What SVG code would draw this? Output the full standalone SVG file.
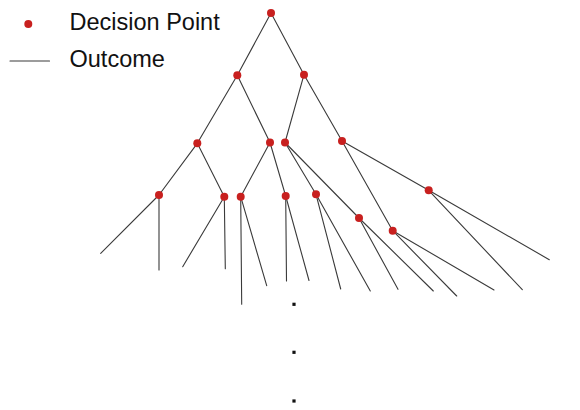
<svg xmlns="http://www.w3.org/2000/svg" width="580" height="410" viewBox="0 0 580 410">
<style>
.e{stroke:#3a3a3a;stroke-width:1.1;fill:none;stroke-linecap:round}
.n{fill:#c8201f}
.t{font-family:"Liberation Sans",Arial,sans-serif;font-size:23.5px;fill:#111}
.d{fill:#111}
</style>
<rect width="580" height="410" fill="#fff"/>
<g id="legend">
<circle class="n" cx="28.3" cy="24" r="4"/>
<text class="t" x="69.5" y="29.5">Decision Point</text>
<line class="e" x1="10" y1="61" x2="49.5" y2="61"/>
<text class="t" x="69.5" y="67">Outcome</text>
</g>
<g id="connectors">
<line class="e" x1="271" y1="13" x2="237.3" y2="75.3"/>
<line class="e" x1="271" y1="13" x2="304" y2="74.7"/>
<line class="e" x1="237.3" y1="75.3" x2="197.3" y2="143.3"/>
<line class="e" x1="237.3" y1="75.3" x2="270" y2="142.5"/>
<line class="e" x1="304" y1="74.7" x2="285" y2="142.5"/>
<line class="e" x1="304" y1="74.7" x2="342" y2="141"/>
<line class="e" x1="197.3" y1="143.3" x2="159" y2="195"/>
<line class="e" x1="197.3" y1="143.3" x2="224.3" y2="196.7"/>
<line class="e" x1="270" y1="142.5" x2="240.7" y2="196.7"/>
<line class="e" x1="270" y1="142.5" x2="285.7" y2="196"/>
<line class="e" x1="285" y1="142.5" x2="316" y2="194.3"/>
<line class="e" x1="285" y1="142.5" x2="359" y2="218"/>
<line class="e" x1="342" y1="141" x2="392.7" y2="230.7"/>
<line class="e" x1="342" y1="141" x2="428.7" y2="190.3"/>
<line class="e" x1="159" y1="195" x2="100.7" y2="253.3"/>
<line class="e" x1="159" y1="195" x2="159" y2="270"/>
<line class="e" x1="224.3" y1="196.7" x2="182.7" y2="266.7"/>
<line class="e" x1="224.3" y1="196.7" x2="225.3" y2="268.7"/>
<line class="e" x1="240.7" y1="196.7" x2="241.7" y2="304.3"/>
<line class="e" x1="240.7" y1="196.7" x2="266.7" y2="285.7"/>
<line class="e" x1="285.7" y1="196" x2="286.5" y2="281"/>
<line class="e" x1="285.7" y1="196" x2="309" y2="280.5"/>
<line class="e" x1="316" y1="194.3" x2="340.7" y2="289"/>
<line class="e" x1="316" y1="194.3" x2="370.3" y2="291"/>
<line class="e" x1="359" y1="218" x2="398" y2="289.3"/>
<line class="e" x1="359" y1="218" x2="433.3" y2="291"/>
<line class="e" x1="392.7" y1="230.7" x2="456.7" y2="296"/>
<line class="e" x1="392.7" y1="230.7" x2="494" y2="290"/>
<line class="e" x1="428.7" y1="190.3" x2="522.3" y2="289.7"/>
<line class="e" x1="428.7" y1="190.3" x2="549.3" y2="259.7"/>
</g>
<g id="n0"><circle class="n" cx="271" cy="13" r="4"/></g>
<g id="n1"><circle class="n" cx="237.3" cy="75.3" r="4"/></g>
<g id="n2"><circle class="n" cx="304" cy="74.7" r="4"/></g>
<g id="n3"><circle class="n" cx="197.3" cy="143.3" r="4"/></g>
<g id="n4"><circle class="n" cx="270" cy="142.5" r="4"/></g>
<g id="n5"><circle class="n" cx="285" cy="142.5" r="4"/></g>
<g id="n6"><circle class="n" cx="342" cy="141" r="4"/></g>
<g id="n7"><circle class="n" cx="159" cy="195" r="4"/></g>
<g id="n8"><circle class="n" cx="224.3" cy="196.7" r="4"/></g>
<g id="n9"><circle class="n" cx="240.7" cy="196.7" r="4"/></g>
<g id="n10"><circle class="n" cx="285.7" cy="196" r="4"/></g>
<g id="n11"><circle class="n" cx="316" cy="194.3" r="4"/></g>
<g id="n12"><circle class="n" cx="359" cy="218" r="4"/></g>
<g id="n13"><circle class="n" cx="392.7" cy="230.7" r="4"/></g>
<g id="n14"><circle class="n" cx="428.7" cy="190.3" r="4"/></g>
<g id="ellipsis">
<rect class="d" x="292.4" y="302.7" width="3.2" height="3.2"/>
<rect class="d" x="292.4" y="350.7" width="3.2" height="3.2"/>
<rect class="d" x="292.4" y="399.4" width="3.2" height="3.2"/>
</g>
</svg>
